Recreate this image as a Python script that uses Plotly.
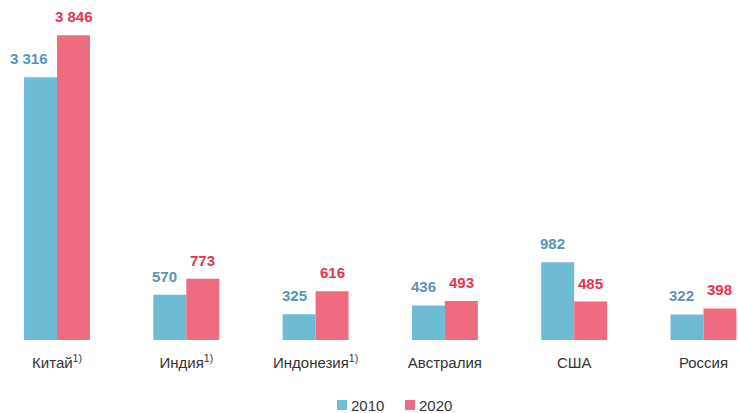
import plotly.graph_objects as go

categories = ["Китай", "Индия", "Индонезия", "Австралия", "США", "Россия"]
tick_labels = ["Китай<sup>1)</sup>", "Индия<sup>1)</sup>", "Индонезия<sup>1)</sup>",
               "Австралия", "США", "Россия"]
values_2010 = [3316, 570, 325, 436, 982, 322]
values_2020 = [3846, 773, 616, 493, 485, 398]
series_names = ["2010", "2020"]

bar_colors = ["#6dbcd3", "#ef6b80"]
text_colors = ["#5b93bd", "#e8334f"]
FONT = "Arial, Liberation Sans, sans-serif"

def fmt(v):
    return f"{v:,}".replace(",", " ")

fig = go.Figure()
for name, vals, bc in zip(series_names, [values_2010, values_2020], bar_colors):
    fig.add_trace(go.Bar(
        x=categories, y=vals, name=name,
        marker=dict(color=bc, line=dict(width=0)),
        showlegend=False, hoverinfo="skip",
    ))

annotations = []
# 2010 labels: right-aligned a little left of the bar's right edge; 2020 labels centred
label_specs = [(values_2010, text_colors[0], "right", -7),
               (values_2020, text_colors[1], "center", 16.5)]
for vals, tc, xa, shift in label_specs:
    for c, v in zip(categories, vals):
        annotations.append(dict(
            x=c, y=v, text=f"<b>{fmt(v)}</b>", showarrow=False,
            xanchor=xa, xshift=shift, yshift=8, yanchor="bottom",
            font=dict(family=FONT, size=15, color=tc),
        ))

# manual legend (square + label), paper coords relative to plot area (0..340 px)
W, PH = 738.0, 340.0
legend_items = [(337, 349), (405, 417)]  # square left px, text left px
shapes = []
for (sq, tx), name, bc in zip(legend_items, series_names, bar_colors):
    shapes.append(dict(
        type="rect", xref="paper", yref="paper",
        x0=sq / W, x1=(sq + 10) / W,
        y0=(PH - 410) / PH, y1=(PH - 400) / PH,
        fillcolor=bc, line=dict(width=0),
    ))
    annotations.append(dict(
        xref="paper", yref="paper", x=tx / W, y=(PH - 405) / PH,
        xanchor="left", yanchor="middle", text=name, showarrow=False,
        font=dict(family=FONT, size=15, color="#333333"),
    ))

fig.update_layout(
    width=738, height=413,
    margin=dict(l=0, r=0, t=0, b=73),
    paper_bgcolor="white", plot_bgcolor="white",
    barmode="group", bargap=0.49, bargroupgap=0,
    font=dict(family=FONT, size=15, color="#333333"),
    xaxis=dict(
        tickmode="array", tickvals=categories, ticktext=tick_labels,
        range=[-0.441, 5.267], showgrid=False, showline=False, zeroline=False,
        ticks="", ticklabelstandoff=12, tickfont=dict(family=FONT, size=15, color="#333333"),
    ),
    yaxis=dict(range=[0, 4290], visible=False, showgrid=False, zeroline=False),
    annotations=annotations,
    shapes=shapes,
    showlegend=False,
)

fig.write_html("out.html", config={"displayModeBar": False},
               post_script="document.body.style.margin='0px';")
